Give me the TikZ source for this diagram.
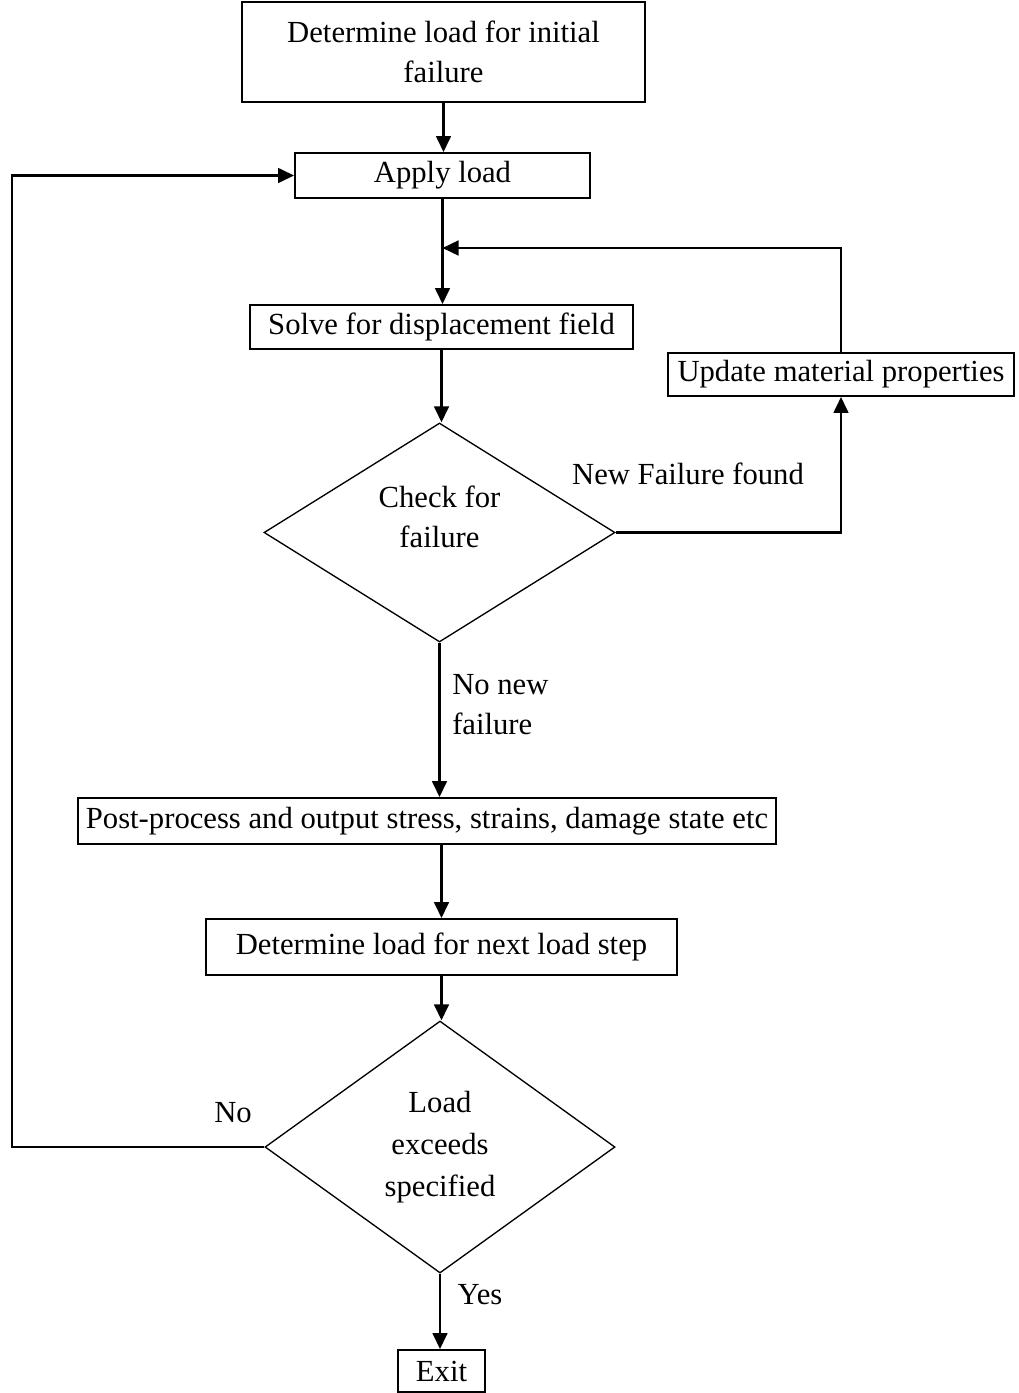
\documentclass[tikz,border=0pt]{standalone}
\usepackage{fontspec}
\setmainfont{Liberation Serif}
\usetikzlibrary{arrows.meta,shapes.geometric}
\def\pxu{0.75pt}
\begin{document}
\begin{tikzpicture}[x=0.75pt,y=-0.75pt,
  every node/.style={font=\fontsize{23}{30}\selectfont, inner sep=0pt, align=center},
  procbox/.style={draw, line width=1.4pt, rectangle},
  decision/.style={draw, line width=1pt, diamond},
  conn/.style={line width=1.9pt, -{Triangle[length=12pt,width=11pt]}},
  lbl/.style={}]
\useasboundingbox (0,0) rectangle (1018,1393);

% process steps
\node[procbox, minimum width=403*\pxu, minimum height=100*\pxu] (init) at (443.5,52)
  {Determine load for initial\\failure};
\node[procbox, minimum width=295*\pxu, minimum height=45*\pxu] (apply) at (442.5,175.5) {Apply load};
\node[procbox, minimum width=383*\pxu, minimum height=44*\pxu] (solve) at (441.5,327) {Solve for displacement field};
\node[procbox, minimum width=346*\pxu, minimum height=43*\pxu] (update) at (841,374.5) {Update material properties};
\node[decision, minimum width=351*\pxu, minimum height=219*\pxu] (check) at (439.5,532.5) {};
\node (checktxt) at (439.5,516.5) {Check for\\failure};
\node[procbox, minimum width=698*\pxu, minimum height=46*\pxu] (post) at (427,821)
  {Post-process and output stress, strains, damage state etc};
\node[procbox, minimum width=471*\pxu, minimum height=56*\pxu] (next) at (441.5,947) {Determine load for next load step};
\node[decision, minimum width=350*\pxu, minimum height=252*\pxu,
  font=\fontsize{23}{31.5}\selectfont] (loadchk) at (440,1147) {Load\\exceeds\\specified};
\node[procbox, minimum width=87*\pxu, minimum height=42*\pxu] (exit) at (441.5,1371) {Exit};

% branch labels
\node[lbl] (newfail) at (688,474) {New Failure found};
\node[lbl, anchor=west, align=left] (nonew) at (452,705) {No new\\failure};
\node[lbl] (nolbl) at (233,1113) {No};
\node[lbl] (yeslbl) at (480,1295) {Yes};

% junction points of the loops
\coordinate (joint) at (841,248);
\coordinate (leftbot) at (12,1147);

% main flow
\draw[conn] (init.south) -- (init.south |- apply.north);
\draw[conn] (apply.south) -- (apply.south |- solve.north);
\draw[conn] (solve.south) -- (solve.south |- check.north);
\draw[conn] (check.south) -- (check.south |- post.north);
\draw[conn] (post.south -| next.north) -- (next.north);
\draw[conn] (next.south) -- (next.south |- loadchk.north);
\draw[conn] (loadchk.south) -- (loadchk.south |- exit.north);

% failure loop
\draw[conn] (check.east) -| (update.south);
\draw[conn] (update.north) -- (joint) -- (joint -| apply.south);

% load step loop
\draw[conn] (loadchk.west) -- (leftbot) |- (apply.west);
\end{tikzpicture}
\end{document}
